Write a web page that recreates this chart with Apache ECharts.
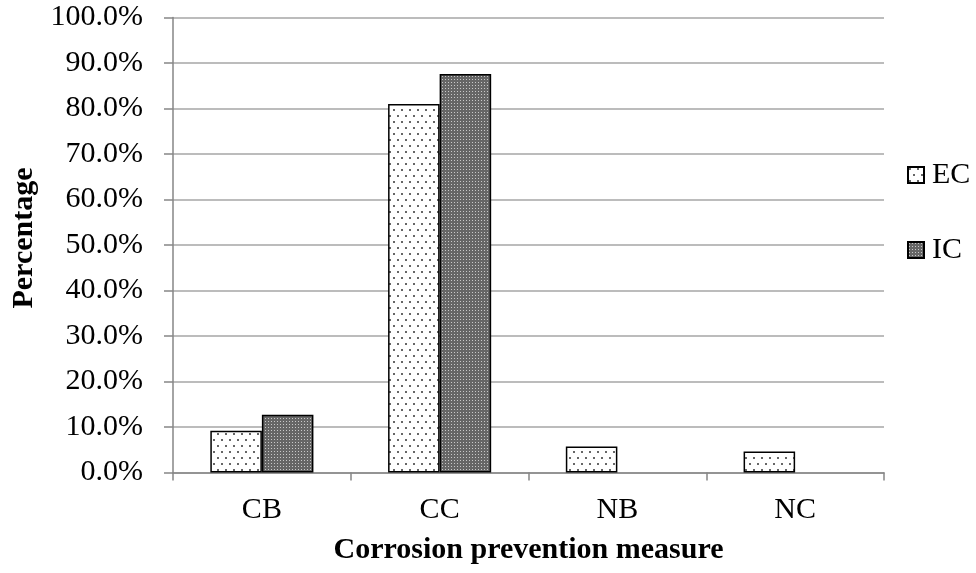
<!DOCTYPE html>
<html>
<head>
<meta charset="utf-8">
<script src="https://cdn.jsdelivr.net/npm/echarts@6/dist/echarts.min.js"></script>
<style>
  html, body { margin: 0; padding: 0; background: #fff; }
  #chart { width: 976px; height: 573px; }
</style>
</head>
<body>
<div id="chart"></div>
<script>
// Share of each corrosion prevention measure, by group (percent)
const categories = ['CB', 'CC', 'NB', 'NC'];
const ecValues = [9.2, 81.0, 5.7, 4.6];
const icValues = [12.7, 87.6, 0, 0];
const seriesNames = ['EC', 'IC'];

const FONT = '"Liberation Serif", "Times New Roman", serif';

// Sparse staggered dot fill (light pattern)
function dotPattern() {
  const c = document.createElement('canvas');
  c.width = 8; c.height = 12;
  const g = c.getContext('2d');
  g.fillStyle = '#fff';
  g.fillRect(0, 0, 8, 12);
  g.fillStyle = '#666';
  g.fillRect(1, 1, 2, 2);
  g.fillRect(5, 7, 2, 2);
  return c;
}

// Dense fine-grain fill (dark pattern)
function checkerPattern() {
  const c = document.createElement('canvas');
  c.width = 3; c.height = 3;
  const g = c.getContext('2d');
  g.fillStyle = '#666';
  g.fillRect(0, 0, 3, 3);
  g.fillStyle = '#c8c8c8';
  g.fillRect(1, 1, 1, 1);
  return c;
}

const ecFill = { image: dotPattern(), repeat: 'repeat' };
const icFill = { image: checkerPattern(), repeat: 'repeat' };

// Zero-height bars get no outline so nothing is drawn for them
function toBarData(values) {
  return values.map(v => (v === 0 ? { value: v, itemStyle: { borderWidth: 0 } } : v));
}

const chart = echarts.init(document.getElementById('chart'), null, { renderer: 'canvas' });

chart.setOption({
  animation: false,
  backgroundColor: '#fff',
  grid: { left: 173, right: 92, top: 17.5, bottom: 100.5, containLabel: false },
  legend: {
    orient: 'vertical',
    left: 902,
    top: 155,
    itemGap: 45,
    itemWidth: 16,
    itemHeight: 16,
    icon: 'rect',
    textStyle: { fontFamily: FONT, fontSize: 30, color: '#000', padding: [0, 0, 0, 3] },
    data: seriesNames
  },
  xAxis: {
    type: 'category',
    data: categories,
    name: 'Corrosion prevention measure',
    nameLocation: 'middle',
    nameGap: 63,
    nameTextStyle: { fontFamily: FONT, fontSize: 30, fontWeight: 'bold', color: '#000' },
    axisLine: { lineStyle: { color: '#868686', width: 1.5 } },
    axisTick: { show: true, alignWithLabel: false, length: 8, lineStyle: { color: '#868686', width: 1.5 } },
    axisLabel: { fontFamily: FONT, fontSize: 30, color: '#000', margin: 23 }
  },
  yAxis: {
    type: 'value',
    min: 0,
    max: 100,
    interval: 10,
    name: 'Percentage',
    nameLocation: 'middle',
    nameGap: 125,
    nameRotate: 90,
    nameTextStyle: {
      fontFamily: FONT, fontSize: 30, fontWeight: 'bold', color: '#000',
      padding: [0, 0, 0, 14]
    },
    axisLine: { show: true, lineStyle: { color: '#868686', width: 1.5 } },
    axisTick: { show: true, length: 9, lineStyle: { color: '#868686', width: 1.5 } },
    axisLabel: {
      fontFamily: FONT, fontSize: 30, color: '#000', margin: 30,
      formatter: v => v.toFixed(1) + '%'
    },
    splitLine: { show: true, lineStyle: { color: '#a6a6a6', width: 1.5 } }
  },
  series: [
    {
      name: seriesNames[0],
      type: 'bar',
      data: toBarData(ecValues),
      barGap: '0%',
      barCategoryGap: '42%',
      itemStyle: { color: ecFill, borderColor: '#000', borderWidth: 1.5 }
    },
    {
      name: seriesNames[1],
      type: 'bar',
      data: toBarData(icValues),
      barGap: '0%',
      barCategoryGap: '42%',
      itemStyle: { color: icFill, borderColor: '#000', borderWidth: 1.5 }
    }
  ]
});
</script>
</body>
</html>
